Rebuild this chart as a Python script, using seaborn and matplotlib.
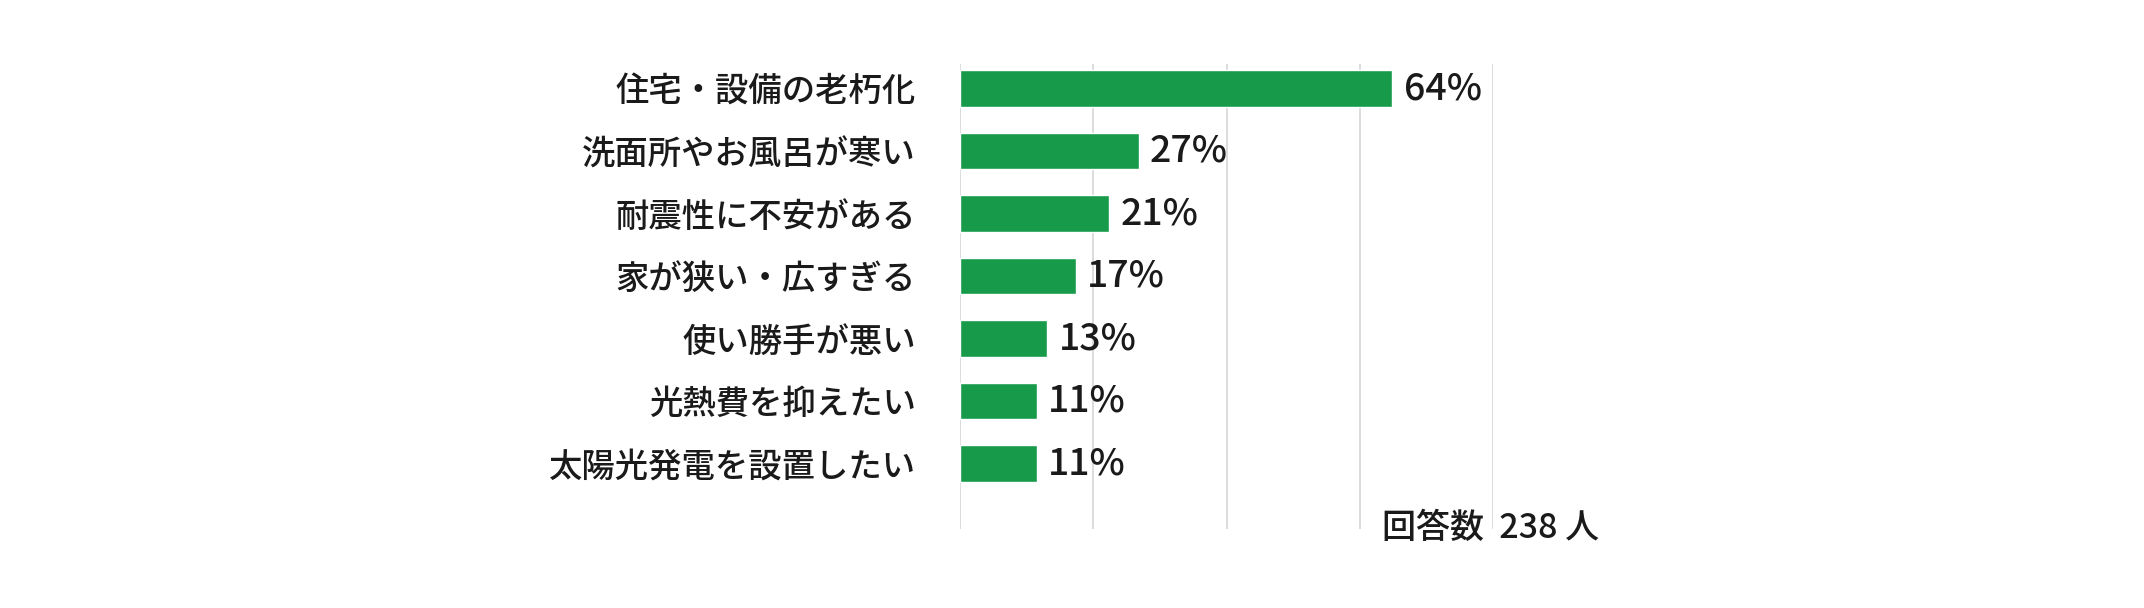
import matplotlib
matplotlib.use("Agg")
import matplotlib.pyplot as plt
import seaborn as sns
import pandas as pd

# -----------------------------
# Data
# -----------------------------
categories = [
    "住宅・設備の老朽化",
    "洗面所やお風呂が寒い",
    "耐震性に不安がある",
    "家が狭い・広すぎる",
    "使い勝手が悪い",
    "光熱費を抑えたい",
    "太陽光発電を設置したい",
]
values = [64.9, 26.8, 22.4, 17.4, 13.1, 11.5, 11.5]
value_labels = ["64%", "27%", "21%", "17%", "13%", "11%", "11%"]
note = "回答数  238 人"

df = pd.DataFrame({"item": categories, "pct": values})

# -----------------------------
# Style
# -----------------------------
sns.set_style("white")
plt.rcParams["font.family"] = ["Noto Sans CJK JP", "DejaVu Sans"]

fig = plt.figure(figsize=(21.44, 6.08), dpi=100)
ax = fig.add_axes([0.4478, 0.1299, 0.2486, 0.7648])

sns.barplot(data=df, x="pct", y="item", orient="h",
            color="#179B4B", saturation=1, width=0.585, ax=ax)

ax.set_xlim(0, 80)
ax.set_ylim(7.05, -0.39)
ax.set_xticks([0, 20, 40, 60, 80])
ax.xaxis.grid(True, color="#d9d9d9", linewidth=1.3)
ax.set_axisbelow(True)
for s in ax.spines.values():
    s.set_visible(False)

ax.set_xlabel("")
ax.set_ylabel("")
ax.tick_params(axis="x", length=0, labelbottom=False)
ax.tick_params(axis="y", length=0, pad=32, labelsize=24, labelcolor="#1a1a1a")
for t in ax.get_yticklabels():
    t.set_fontweight("medium")

ax.bar_label(ax.containers[0], labels=value_labels, padding=8,
             fontsize=27, fontweight="medium", color="#1a1a1a")

fig.text(0.6445, 0.1316, note, fontsize=24.5, fontweight="medium",
         color="#1a1a1a", ha="left", va="center")

fig.savefig("out.png", dpi=100)
